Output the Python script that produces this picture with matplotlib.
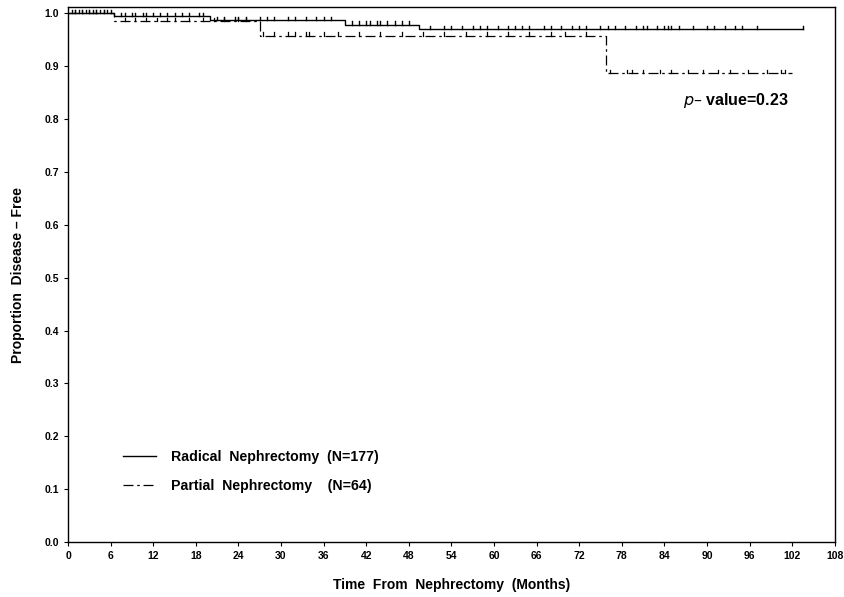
import matplotlib.pyplot as plt
from matplotlib.lines import Line2D

plt.rcParams['font.family'] = ['Liberation Sans', 'DejaVu Sans']

# Radical nephrectomy: step times and survival after each step
rad_times = [0, 6.5, 20, 39, 49.5, 103.5]
rad_surv = [1.0, 0.995, 0.988, 0.979, 0.970, 0.970]
rad_censor = [0.5, 1, 1.5, 2, 2.5, 3, 3.5, 4, 4.5, 5, 5.5, 6,
              7.5, 8, 9, 9.5, 10.5, 11, 12, 13, 14, 15, 16, 17, 18.5, 19,
              21, 22, 23.5, 24, 25, 27, 28, 29, 31, 32, 33.5, 35, 36, 37,
              40, 41, 42, 42.5, 43.5, 44, 45, 46, 47, 48,
              51, 53, 54, 55.5, 57, 58, 59, 60.5, 62, 63, 64, 65, 67, 68,
              69.5, 71, 72, 73, 75, 76, 77, 78.5, 80, 81, 81.5, 83, 84,
              84.5, 85, 86, 88, 90, 91, 92.5, 94, 95, 97, 103.5]

# Partial nephrectomy
par_times = [0, 6.5, 27, 75.8, 102]
par_surv = [1.0, 0.985, 0.958, 0.887, 0.887]
par_censor = [1, 2, 3, 4, 5, 8, 9.5, 11, 12.5, 14, 15, 17, 19, 20.5, 22,
              24, 25, 27.5, 29, 31, 32, 33.5, 34, 36, 38, 41, 44, 47, 50,
              53, 56, 59, 62, 65, 68, 70, 73, 76.3, 78.7, 79.4, 81, 83.4,
              85, 87.3, 89.4, 91.5, 93.2, 95.8, 98.4, 100.5, 101]

xticks = list(range(0, 109, 6))
yticks = [i / 10 for i in range(11)]


def surv_at(times, surv, t):
    s = surv[0]
    for ti, si in zip(times, surv):
        if ti <= t:
            s = si
    return s


fig = plt.figure(figsize=(8.44, 5.97), dpi=100)
ax = fig.add_axes([0.0806, 0.0921, 0.9084, 0.896])

ax.step(rad_times, rad_surv, where='post', color='black', lw=1.0)
ax.step(par_times, par_surv, where='post', color='black', lw=0.9,
        linestyle=(0, (8, 3, 2, 3)))

tick_h = 0.006
for t in rad_censor:
    s = surv_at(rad_times, rad_surv, t)
    ax.plot([t, t], [s, s + tick_h], color='black', lw=1.0)
for t in par_censor:
    s = surv_at(par_times, par_surv, t)
    ax.plot([t, t], [s, s + tick_h], color='black', lw=0.9)

ax.set_xlim(0, 108)
ax.set_ylim(0, 1.012)
ax.set_xticks(xticks)
ax.set_xticklabels([str(x) for x in xticks])
ax.set_yticks(yticks)
ax.set_yticklabels(['%.1f' % y for y in yticks])
ax.tick_params(direction='out', length=3, width=0.8, labelsize=7.5)
for lab in ax.get_xticklabels() + ax.get_yticklabels():
    lab.set_fontweight('bold')
for sp in ax.spines.values():
    sp.set_linewidth(1.0)

ax.set_xlabel('Time  From  Nephrectomy  (Months)', fontsize=10,
              fontweight='bold', labelpad=12)
ax.set_ylabel('Proportion  Disease \u2013 Free', fontsize=10,
              fontweight='bold', labelpad=14)

ax.text(86.6, 0.836, r'$p$' + '\u2013 value=0.23', fontsize=11.5,
        fontweight='bold', va='center', ha='left')

handles = [Line2D([], [], color='black', lw=1.0),
           Line2D([], [], color='black', lw=0.9, linestyle=(0, (8, 3, 2, 3)))]
labels = ['Radical  Nephrectomy  (N=177)', 'Partial  Nephrectomy    (N=64)']
leg = ax.legend(handles, labels, loc='lower left',
                bbox_to_anchor=(0.055, 0.068), frameon=False,
                handlelength=2.3, handletextpad=1.1, labelspacing=1.05,
                prop={'size': 10.2, 'weight': 'bold'})

fig.savefig('out.png', dpi=100)
